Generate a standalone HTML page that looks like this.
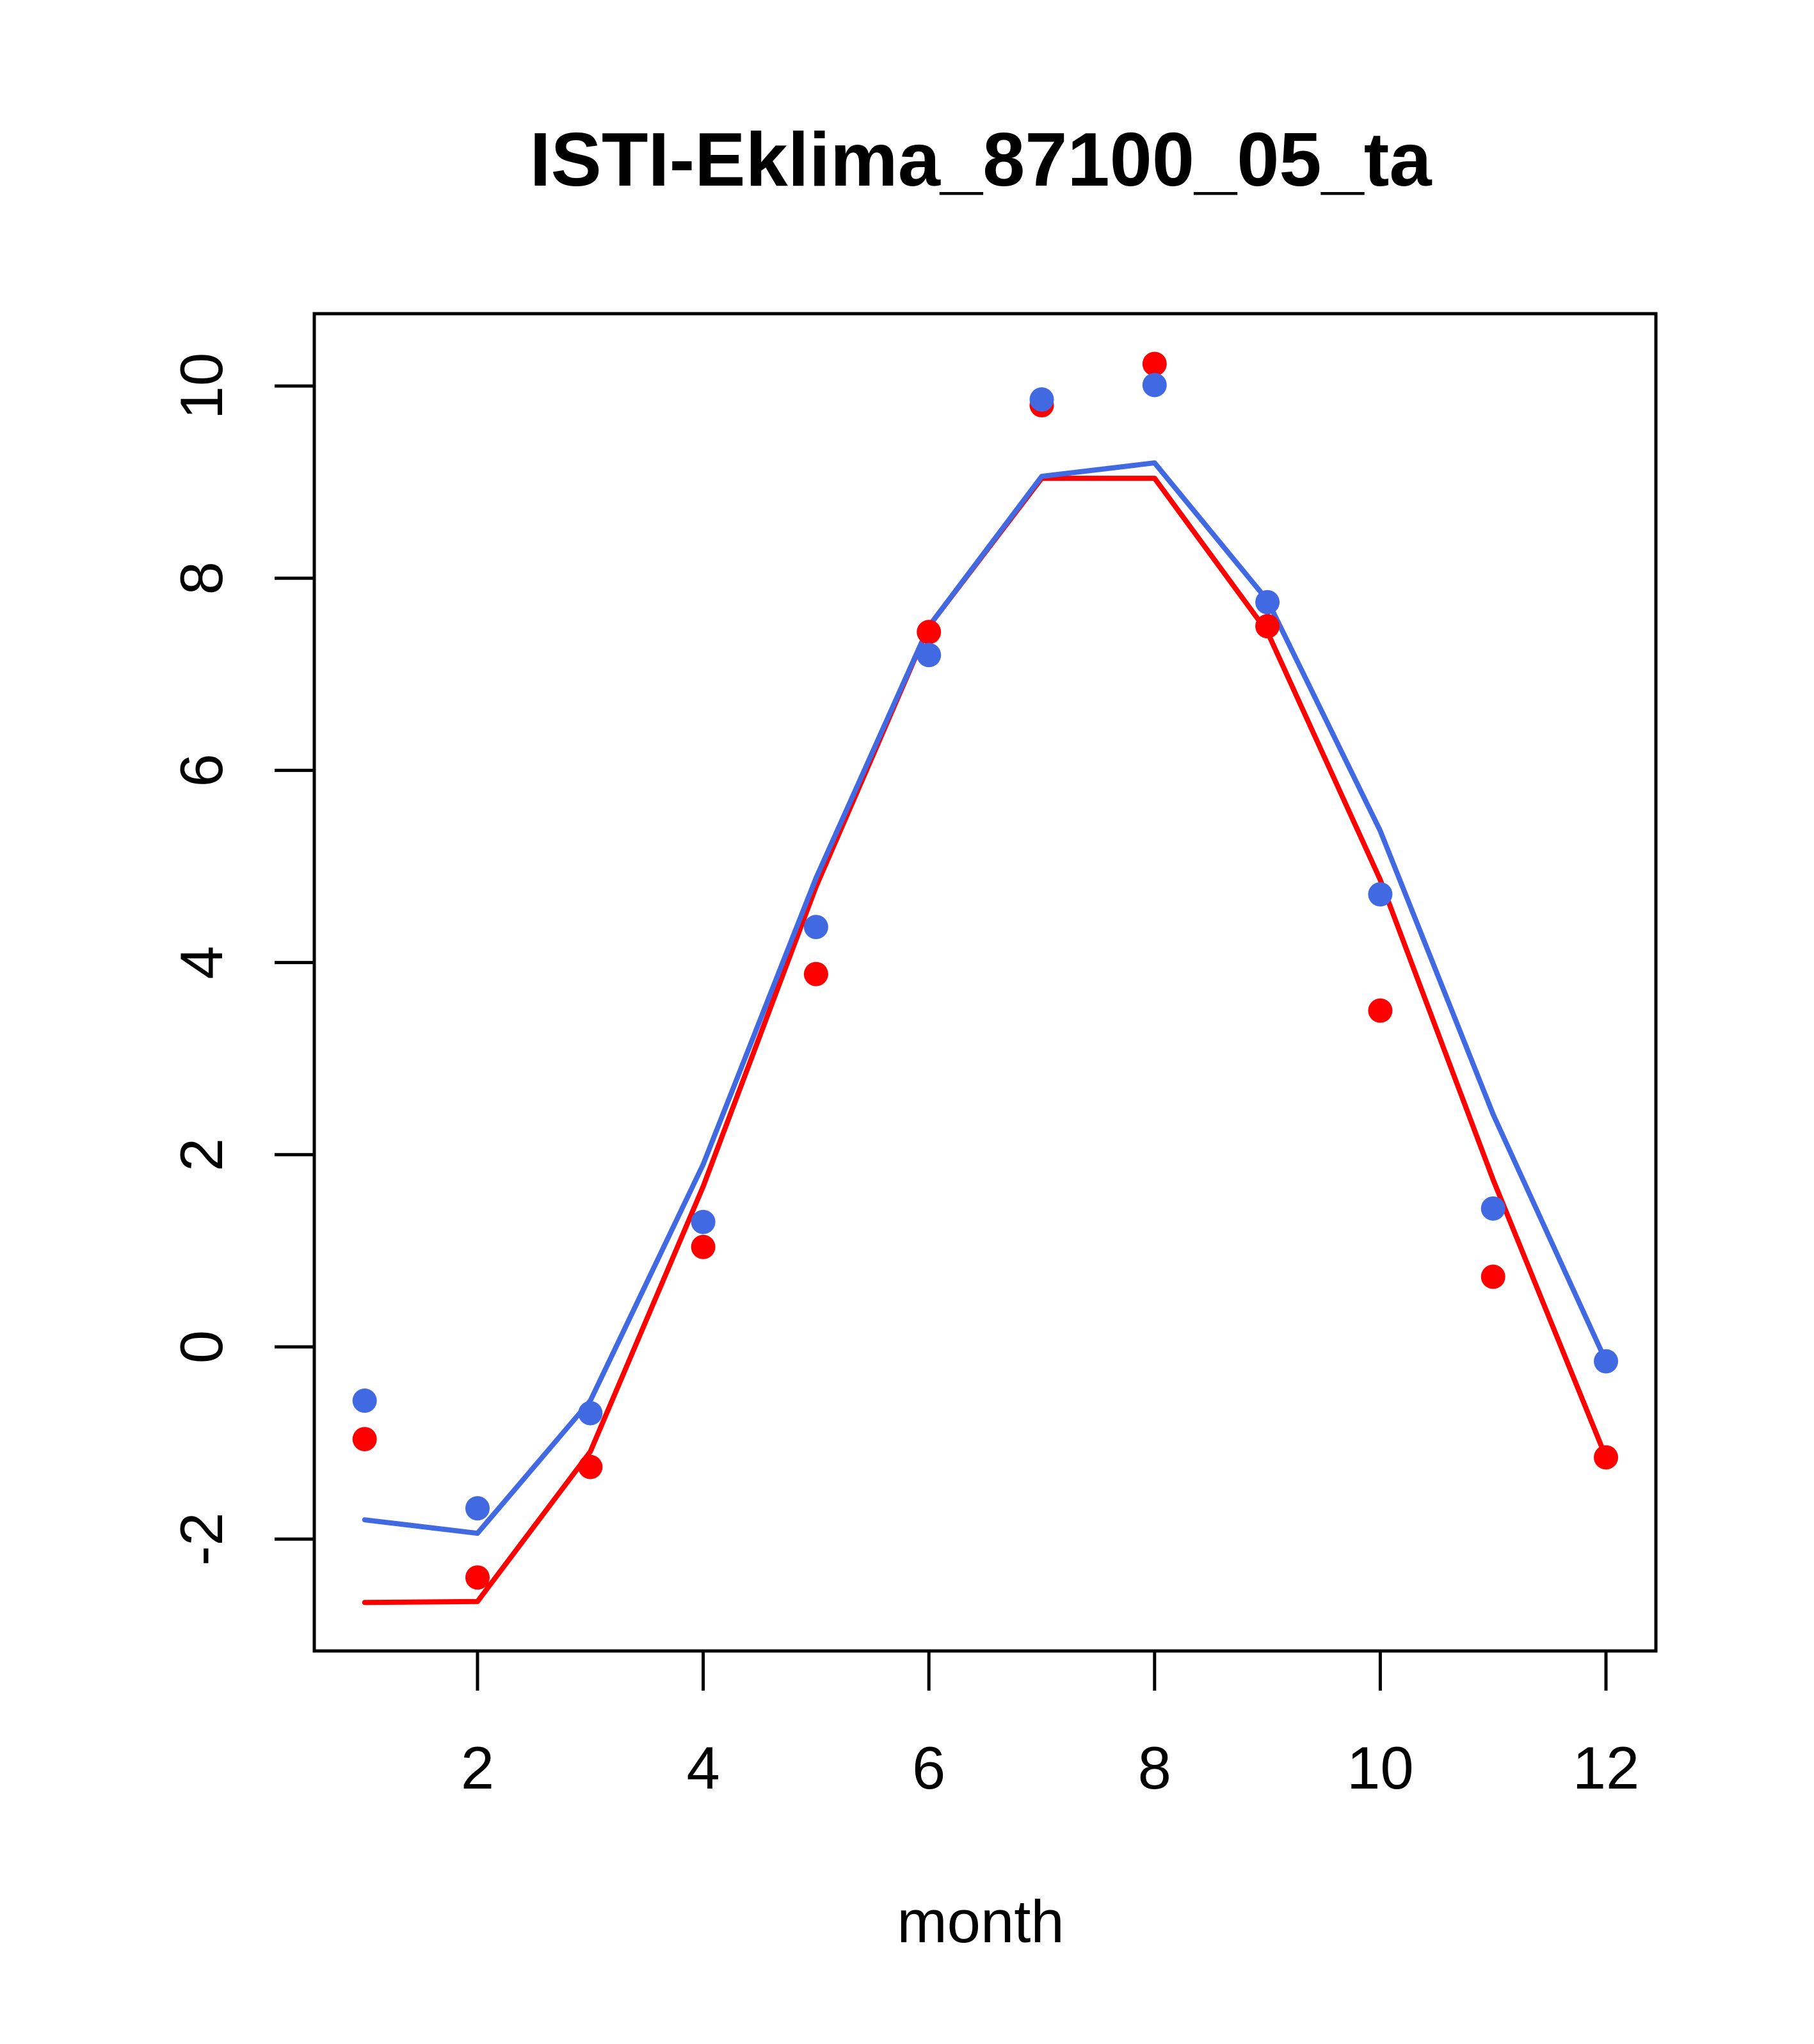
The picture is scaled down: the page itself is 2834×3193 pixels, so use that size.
<!DOCTYPE html>
<html><head><meta charset="utf-8"><style>
html,body{margin:0;padding:0;background:#fff}
svg text{font-family:"Liberation Sans",sans-serif;fill:#000}
</style></head><body>
<svg id="chart" width="2834" height="3188" viewBox="0 0 2834 3188" xmlns="http://www.w3.org/2000/svg">
<rect width="2834" height="3188" fill="#fff"/>
<text x="1532" y="290" font-size="119" font-weight="bold" text-anchor="middle">ISTI-Eklima_87100_05_ta</text>
<text x="1532" y="3034" font-size="94" text-anchor="middle">month</text>
<rect x="491" y="490" width="2096" height="2089" fill="none" stroke="#000" stroke-width="5"/>
<g id="axes"></g>
<g id="marks"></g>
</svg>
<script>
const months = [1,2,3,4,5,6,7,8,9,10,11,12];
const redPoints = [-0.96,-2.40,-1.25,1.04,3.88,7.44,9.80,10.23,7.50,3.50,0.73,-1.15];
const bluePoints = [-0.56,-1.68,-0.69,1.30,4.37,7.20,9.86,10.01,7.75,4.71,1.44,-0.15];
const redLine = [-2.66,-2.65,-1.09,1.67,4.79,7.50,9.04,9.04,7.44,4.86,1.74,-1.15];
const blueLine = [-1.80,-1.94,-0.56,1.90,4.88,7.50,9.06,9.20,7.77,5.37,2.42,-0.15];
const xTicks = [2,4,6,8,10,12];
const yTicks = [-2,0,2,4,6,8,10];

function xs(v){ return 746 + (v-2)*176.3; }
function ys(v){ return 2104 - v*150.1; }
const NS = "http://www.w3.org/2000/svg";
const axes = document.getElementById('axes');
const marks = document.getElementById('marks');
function mk(tag, attrs, parent){ const e=document.createElementNS(NS,tag); for(const k in attrs) e.setAttribute(k,attrs[k]); parent.appendChild(e); return e; }

xTicks.forEach(t=>{
  const l = mk('line',{x1:xs(t),x2:xs(t),y1:2579,y2:2641,stroke:'#000','stroke-width':5},axes);
  
  
  const tx = mk('text',{x:xs(t),y:2794,'font-size':94,'text-anchor':'middle'},axes);
  tx.textContent = t;
  
  
});
yTicks.forEach(t=>{
  const l = mk('line',{x1:429,x2:491,y1:ys(t),y2:ys(t),stroke:'#000','stroke-width':5},axes);
  
  
  const tx = mk('text',{x:0,y:0,'font-size':94,'text-anchor':'middle',transform:`translate(347,${ys(t)}) rotate(-90)`},axes);
  tx.textContent = t;
  
  
});

function line(vals,color,name){
  const p = mk('polyline',{points:vals.map((v,i)=>xs(months[i])+','+ys(v)).join(' '),fill:'none',stroke:color,'stroke-width':8,'stroke-linejoin':'round','stroke-linecap':'round'},marks);
  
  
}
function pts(vals,color,name){
  vals.forEach((v,i)=>{
    const c = mk('circle',{cx:xs(months[i]),cy:ys(v),r:19,fill:color},marks);
    
    
  });
}
line(redLine,'#ff0000','red-fit-line');
line(blueLine,'#4169e1','blue-fit-line');
pts(redPoints,'#ff0000','red-point');
pts(bluePoints,'#4169e1','blue-point');
</script>
</body></html>
